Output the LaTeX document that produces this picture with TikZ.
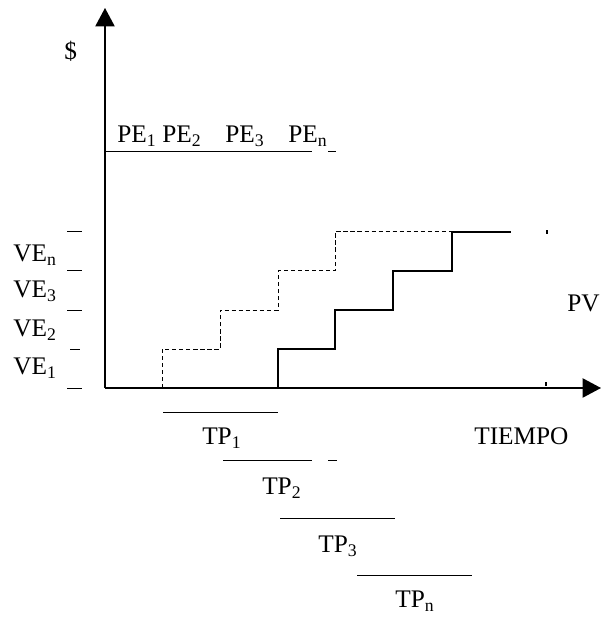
\documentclass[tikz,border=0pt]{standalone}
\usepackage{fontspec}
\setmainfont{Liberation Serif}
\usepackage{tikz}
\usetikzlibrary{arrows.meta,positioning,calc}

\begin{document}
\begin{tikzpicture} [x=0.25mm, y=0.25mm,
  lbl/.style={inner sep=0pt, anchor=base west, font=\fontsize{18}{21}\selectfont},
  axis/.style={line width=1.2pt, -{Triangle[length=4.6mm,width=4.8mm]}},
  thin line/.style={line width=0.7pt}]
\useasboundingbox (0,0) rectangle (602,617);
\coordinate (O) at (105,229);
\coordinate (ytip) at (105,609);
\coordinate (xtip) at (601,229);
\draw[axis] (O) -- (ytip);
\draw[axis] (O) -- (xtip);

\node[lbl] (dollar) at (64,557) {\$};

% PE
\draw[thin line] (O |- 0,465) -- (312,465);
\draw[thin line] (328,465) -- (336,465);
\node[lbl] (pe1) at (117,474) {PE\textsubscript{1}};
\node[lbl] (pe2) at (162,474) {PE\textsubscript{2}};
\node[lbl] (pe3) at (225,474) {PE\textsubscript{3}};
\node[lbl] (pen) at (288,474) {PE\textsubscript{n}};

% VE ticks and labels
\draw[thin line] (67,229) -- (82,229);
\draw[thin line] (70,268) -- (80,268);
\draw[thin line] (67,307) -- (82,307);
\draw[thin line] (67,346) -- (82,346);
\draw[thin line] (67,385) -- (82,385);
\node[lbl] (ve1) at (13,242) {VE\textsubscript{1}};
\node[lbl] (ve2) at (13,280) {VE\textsubscript{2}};
\node[lbl] (ve3) at (13,319) {VE\textsubscript{3}};
\node[lbl] (ven) at (13,355) {VE\textsubscript{n}};

% staircases
\draw[thin line, dash pattern=on 3pt off 2pt] (162,229) -- (162,268) -- (220,268) -- (220,307) -- (278,307)
  -- (278,346) -- (335,346) -- (335,385) -- (452,385);
\draw[line width=2pt] (278,229) -- (278,268) -- (335,268) -- (335,307) -- (393,307)
  -- (393,346) -- (452,346) -- (452,385) -- (511,385);
\draw[line width=1.2pt] (547,383) -- (547,387);
\draw[line width=1.2pt] (546,231) -- (546,235);

\node[lbl] (pv) at (567,305) {PV};
\node[lbl] (tiempo) at (474,172) {TIEMPO};

% TP
\draw[thin line] (163,205) -- (278,205);
\node[lbl] (tp1) at (202,172) {TP\textsubscript{1}};
\draw[thin line] (223,157) -- (312,157);
\draw[thin line] (328,157) -- (337,157);
\node[lbl] (tp2) at (262,122) {TP\textsubscript{2}};
\draw[thin line] (280,99) -- (395,99);
\node[lbl] (tp3) at (318,64) {TP\textsubscript{3}};
\draw[thin line] (357,42) -- (472,42);
\node[lbl] (tpn) at (395,9) {TP\textsubscript{n}};
\end{tikzpicture}
\end{document}
